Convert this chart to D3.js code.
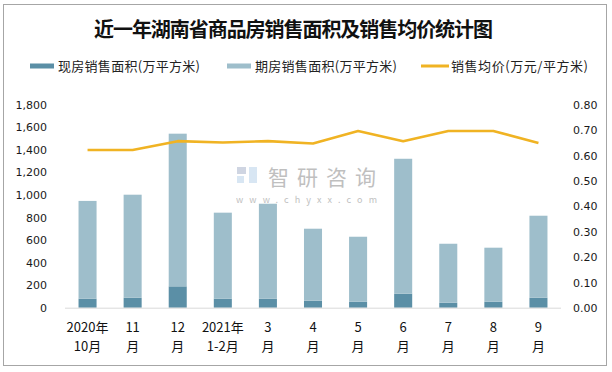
<!DOCTYPE html>
<html>
<head>
<meta charset="utf-8">
<script src="https://cdn.jsdelivr.net/npm/d3@7"></script>
<style>
  body { margin: 0; background: #fff; }
  svg { display: block; font-family: "Noto Sans CJK SC", "DejaVu Sans", sans-serif; }
</style>
</head>
<body>
<div id="chart"></div>
<script>
const categories = [
  ['2020年', '10月'], ['11', '月'], ['12', '月'], ['2021年', '1-2月'],
  ['3', '月'], ['4', '月'], ['5', '月'], ['6', '月'], ['7', '月'], ['8', '月'], ['9', '月']
];
// 现房销售面积 (万平方米)
const spotArea = [80, 88, 189, 80, 80, 62, 53, 124, 44, 53, 88];
// 期房销售面积 (万平方米)
const futureArea = [865, 912, 1351, 761, 840, 637, 575, 1194, 522, 478, 726];
// 销售均价 (万元/平方米)
const avgPrice = [0.62, 0.62, 0.655, 0.65, 0.655, 0.646, 0.695, 0.655, 0.695, 0.695, 0.648];

const leftTicks = [0, 200, 400, 600, 800, 1000, 1200, 1400, 1600, 1800];
const rightTicks = [0, 0.1, 0.2, 0.3, 0.4, 0.5, 0.6, 0.7, 0.8];

const W = 612, H = 372;
const colDark = '#5b8fa6', colLight = '#9ebecb', colLine = '#f0b323';

const svg = d3.select('#chart').append('svg')
  .attr('width', W).attr('height', H);

// outer frame
svg.append('rect')
  .attr('x', 3.5).attr('y', 4.5).attr('width', 603).attr('height', 361)
  .attr('fill', '#fff').attr('stroke', '#a6a6a6').attr('stroke-width', 1);

// title
svg.append('text')
  .attr('x', 94).attr('y', 37)
  .attr('font-size', 20).attr('font-weight', 'bold').attr('fill', '#111')
  .attr('textLength', 399).attr('lengthAdjust', 'spacing')
  .text('近一年湖南省商品房销售面积及销售均价统计图');

// legend
const legend = [
  { label: '现房销售面积(万平方米)', color: colDark, x: 30, w: 142, type: 'bar' },
  { label: '期房销售面积(万平方米)', color: colLight, x: 227, w: 142, type: 'bar' },
  { label: '销售均价(万元/平方米)', color: colLine, x: 421, w: 137, type: 'line' }
];
const lg = svg.append('g').selectAll('g').data(legend).enter().append('g');
lg.append('rect')
  .attr('x', d => d.x).attr('y', d => d.type === 'bar' ? 63.5 : 64.5)
  .attr('width', d => d.type === 'bar' ? 24 : 28)
  .attr('height', d => d.type === 'bar' ? 5 : 3)
  .attr('fill', d => d.color);
lg.append('text')
  .attr('x', d => d.x + (d.type === 'bar' ? 28 : 30)).attr('y', 70.5)
  .attr('font-size', 13).attr('fill', '#222')
  .attr('textLength', d => d.w).attr('lengthAdjust', 'spacing')
  .text(d => d.label);

// scales
const x = d3.scaleBand().domain(d3.range(categories.length)).range([65, 561]).paddingInner(0.6).paddingOuter(0.3);
const yL = d3.scaleLinear().domain([0, 1800]).range([307.7, 104.3]);
const yR = d3.scaleLinear().domain([0, 0.8]).range([307.7, 104.3]);

// watermark
const wm = svg.append('g').attr('opacity', 0.55);
wm.append('rect').attr('x', 237).attr('y', 167).attr('width', 9).attr('height', 7).attr('fill', '#a9b4cc');
wm.append('rect').attr('x', 237).attr('y', 176).attr('width', 7).attr('height', 7).attr('fill', '#b9d3ea');
wm.append('rect').attr('x', 249).attr('y', 167).attr('width', 8).attr('height', 16).attr('fill', '#b9d3ea');
wm.append('text').attr('x', 268).attr('y', 185).attr('font-size', 21).attr('fill', '#8c8c8c')
  .attr('textLength', 108).attr('lengthAdjust', 'spacing').text('智研咨询');
wm.append('text').attr('x', 236).attr('y', 203).attr('font-size', 9).attr('fill', '#8c8c8c')
  .attr('textLength', 141).attr('lengthAdjust', 'spacing').text('www.chyxx.com');

// bars
const bars = svg.append('g');
bars.selectAll('rect.spot').data(spotArea).enter().append('rect')
  .attr('x', (d, i) => x(i)).attr('width', x.bandwidth())
  .attr('y', d => yL(d)).attr('height', d => yL(0) - yL(d))
  .attr('fill', colDark);
bars.selectAll('rect.future').data(futureArea).enter().append('rect')
  .attr('x', (d, i) => x(i)).attr('width', x.bandwidth())
  .attr('y', (d, i) => yL(d + spotArea[i])).attr('height', (d, i) => yL(spotArea[i]) - yL(d + spotArea[i]))
  .attr('fill', colLight);

// baseline
svg.append('line').attr('x1', 65).attr('x2', 561).attr('y1', 308.2).attr('y2', 308.2)
  .attr('stroke', '#d9d9d9').attr('stroke-width', 1);

// price line
const line = d3.line().x((d, i) => x(i) + x.bandwidth() / 2).y(d => yR(d));
svg.append('path').datum(avgPrice)
  .attr('d', line).attr('fill', 'none')
  .attr('stroke', colLine).attr('stroke-width', 2.6).attr('stroke-linejoin', 'round');

// axes
const axL = svg.append('g').attr('transform', 'translate(47,0)')
  .call(d3.axisLeft(yL).tickValues(leftTicks).tickSize(0).tickPadding(0).tickFormat(d3.format(',')));
const axR = svg.append('g').attr('transform', 'translate(573,0)')
  .call(d3.axisRight(yR).tickValues(rightTicks).tickSize(0).tickPadding(0).tickFormat(d3.format('.2f')));
[axL, axR].forEach(a => {
  a.select('.domain').remove();
  a.selectAll('text').attr('font-family', '"DejaVu Sans", sans-serif')
    .attr('font-size', 11).attr('fill', '#1a1a1a').attr('dy', '0.35em');
});

// category labels
const xl = svg.append('g').selectAll('text').data(categories).enter().append('text')
  .attr('text-anchor', 'middle').attr('font-size', 13).attr('fill', '#111');
xl.append('tspan').attr('x', (d, i) => x(i) + x.bandwidth() / 2).attr('y', 332).text(d => d[0]);
xl.append('tspan').attr('x', (d, i) => x(i) + x.bandwidth() / 2).attr('y', 351).text(d => d[1]);
</script>
</body>
</html>
